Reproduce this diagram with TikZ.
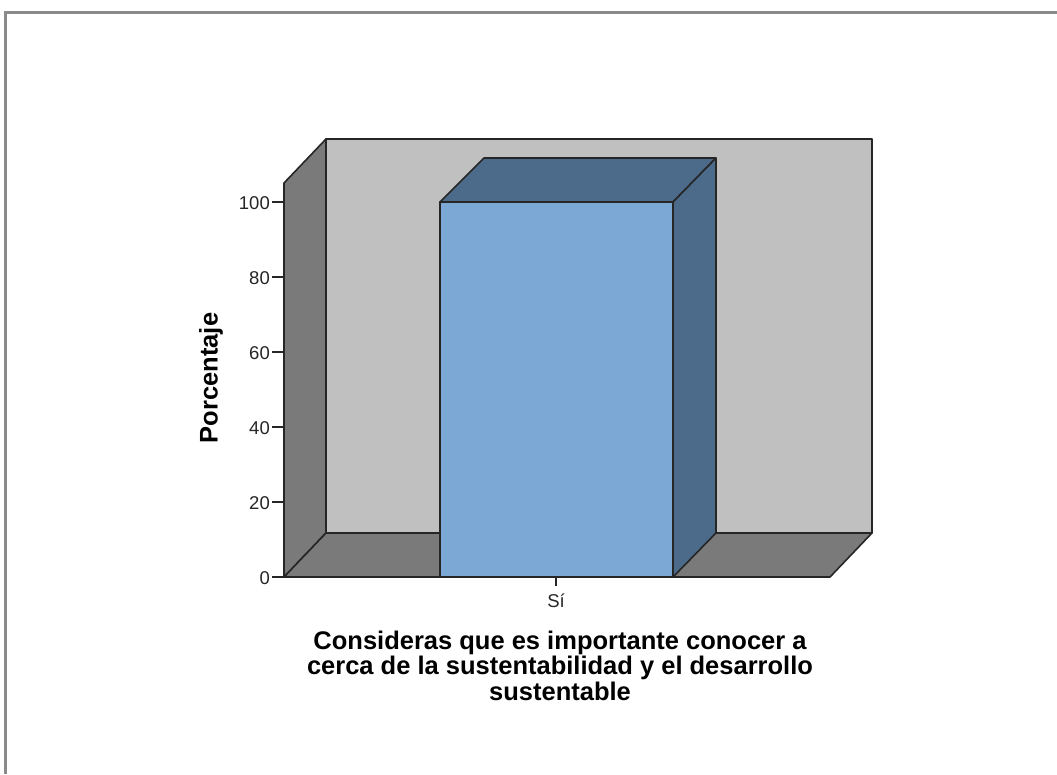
\documentclass[tikz,border=0pt]{standalone}
\usepackage{fontspec}
\setmainfont{Liberation Sans}
\definecolor{wallback}{HTML}{C0C0C0}
\definecolor{wallside}{HTML}{7A7A7A}
\definecolor{barfront}{HTML}{7BA8D5}
\definecolor{bardark}{HTML}{4C6B8A}
\definecolor{frameline}{HTML}{8A8A8A}
\begin{document}
\begin{tikzpicture}[x=1pt,y=-1pt,
  edge/.style={draw=black!85,line width=1.6pt,line join=round},
  ticklab/.style={font=\fontsize{18.5}{18.5}\selectfont,text=black!85,inner sep=0pt},
  boldlab/.style={font=\fontsize{25.5}{26}\selectfont\bfseries,inner sep=0pt,align=center}]
\useasboundingbox (0,0) rectangle (1057,774);
\fill[white] (0,0) rectangle (1057,774);
% frame
\draw[frameline,line width=3pt] (5,774) -- (5,12) -- (1057,12);
% back wall
\fill[wallback,edge] (326,139) rectangle (872,533);
% left wall
\fill[wallside,edge] (284,183) -- (326,139) -- (326,533) -- (284,577) -- cycle;
% floor
\fill[wallside,edge] (284,577) -- (326,533) -- (872,533) -- (830,577) -- cycle;
% bar
\fill[bardark,edge] (440,202) -- (484,158) -- (716,158) -- (673,202) -- cycle;
\fill[bardark,edge] (673,202) -- (716,158) -- (716,533) -- (673,577) -- cycle;
\fill[barfront,edge] (440,202) rectangle (673,577);
% ticks
\foreach \v/\y in {0/577,20/502,40/427,60/352,80/277,100/202}{
  \draw[edge,line width=1.4pt] (272,\y) -- (284,\y);
  \node[ticklab,anchor=east] (t\v) at (270,\y+1) {\v};
}
\draw[edge,line width=1.4pt] (556,577) -- (556,586);
\node[ticklab,anchor=base] (si) at (556,607) {Sí};
\node[boldlab,rotate=90] (ylab) at (211,378) {Porcentaje};
\node[boldlab,anchor=base] (xlab1) at (560,649) {Consideras que es importante conocer a};
\node[boldlab,anchor=base] (xlab2) at (560,674) {cerca de la sustentabilidad y el desarrollo};
\node[boldlab,anchor=base] (xlab3) at (560,700) {sustentable};
\end{tikzpicture}
\end{document}
